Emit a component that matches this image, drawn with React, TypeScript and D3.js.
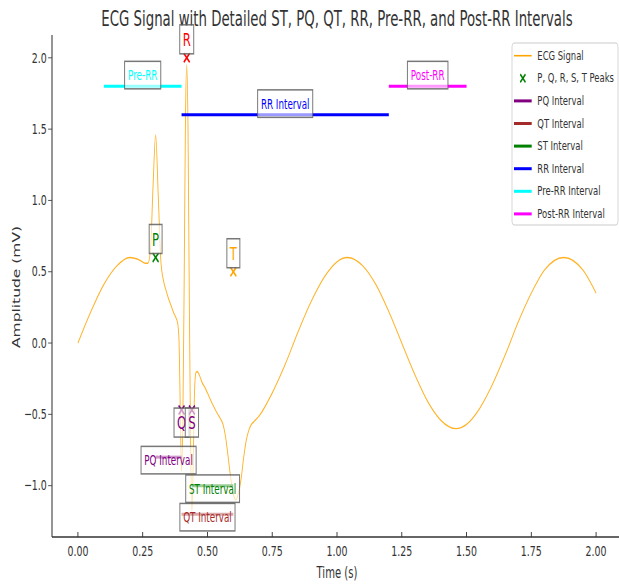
import React from 'react';
import * as d3 from 'd3';

// ECG trace (time in s, amplitude in mV)
const ecgTime = [
  0.0, 0.05, 0.1, 0.15, 0.2, 0.24, 0.26, 0.27, 0.28, 0.29, 0.3, 0.31, 0.32, 0.33, 0.34, 0.35,
  0.36, 0.37, 0.38, 0.385, 0.39, 0.395, 0.4, 0.405, 0.41, 0.415, 0.42, 0.425, 0.43, 0.435,
  0.44, 0.445, 0.45, 0.455, 0.46, 0.47, 0.48, 0.49, 0.5, 0.52, 0.54, 0.55, 0.56, 0.57, 0.58,
  0.59, 0.6, 0.61, 0.62, 0.63, 0.64, 0.65, 0.66, 0.67, 0.68, 0.7, 0.75, 0.8, 0.85, 0.9, 0.95,
  1.0, 1.04, 1.1, 1.15, 1.2, 1.25, 1.3, 1.35, 1.4, 1.46, 1.5, 1.55, 1.6, 1.65, 1.7, 1.75, 1.8,
  1.875, 1.95, 2.0,
];
const ecgAmp = [
  0.0, 0.22, 0.41, 0.54, 0.6, 0.58, 0.56, 0.56, 0.65, 1.1, 1.46, 1.04, 0.58, 0.44, 0.37, 0.31,
  0.26, 0.21, 0.17, 0.14, 0.03, -0.45, -0.9, -0.55, 0.4, 1.55, 1.95, 1.5, 0.3, -0.7,
  -1.18, -0.85, -0.35, -0.21, -0.2, -0.23, -0.28, -0.31, -0.35, -0.43, -0.5, -0.53, -0.57, -0.66, -0.8,
  -0.95, -1.06, -1.1, -1.05, -0.95, -0.8, -0.68, -0.61, -0.57, -0.55, -0.51, -0.35, -0.15, 0.08, 0.29, 0.46,
  0.57, 0.6, 0.54, 0.41, 0.22, 0.0, -0.22, -0.41, -0.54, -0.6, -0.57, -0.46, -0.29, -0.08, 0.15, 0.35, 0.51,
  0.6, 0.51, 0.35,
];

const peakNames = ['P', 'Q', 'R', 'S', 'T'];
const peakTime = [0.3, 0.4, 0.42, 0.44, 0.6];
const peakAmp = [0.6, -0.47, 2.0, -0.47, 0.5];

const intervalNames = ['PQ Interval', 'QT Interval', 'ST Interval', 'RR Interval', 'Pre-RR Interval', 'Post-RR Interval'];
const intervalTags = ['PQ Interval', 'QT Interval', 'ST Interval', 'RR Interval', 'Pre-RR', 'Post-RR'];
const intervalStart = [0.3, 0.4, 0.44, 0.4, 0.1, 1.2];
const intervalEnd = [0.4, 0.6, 0.6, 1.2, 0.4, 1.5];
const intervalLevel = [-0.8, -1.2, -1.0, 1.6, 1.8, 1.8];

const xTicks = [0, 0.25, 0.5, 0.75, 1.0, 1.25, 1.5, 1.75, 2.0];
const yTicks = [-1.0, -0.5, 0.0, 0.5, 1.0, 1.5, 2.0];

// styling
const peakColor: Record<string, string> = { P: 'green', Q: 'purple', R: 'red', S: 'purple', T: 'orange' };
const intervalColor: Record<string, string> = {
  'PQ Interval': 'purple',
  'QT Interval': 'brown',
  'ST Interval': 'green',
  'RR Interval': 'blue',
  'Pre-RR Interval': 'cyan',
  'Post-RR Interval': 'magenta',
};
const labelAbove: Record<string, boolean> = { 'RR Interval': true, 'Pre-RR Interval': true, 'Post-RR Interval': true };

// the reference is squeezed horizontally; draw in a wider space and squash it
const SQ = 0.65;
const W = 619;
const H = 584;
const VW = W / SQ;
const px = (v: number) => v / SQ;
const FONT = 'DejaVu Sans';
const INK = '#333';

function textWidth(s: string, size: number) {
  const w: Record<string, number> = {
    P: 0.603, Q: 0.787, R: 0.695, S: 0.635, T: 0.611, I: 0.295, n: 0.634, t: 0.392, e: 0.615,
    r: 0.411, v: 0.592, a: 0.613, l: 0.278, '-': 0.361, o: 0.612, s: 0.521, ' ': 0.318,
  };
  let sum = 0;
  for (const c of s) sum += w[c] ?? 0.6;
  return sum * size;
}

function Cross({ x, y, color, r = 4.5, sw = 2 }: { x: number; y: number; color: string; r?: number; sw?: number }) {
  return (
    <g stroke={color} strokeWidth={sw}>
      <line x1={x - r} y1={y - r} x2={x + r} y2={y + r} />
      <line x1={x - r} y1={y + r} x2={x + r} y2={y - r} />
    </g>
  );
}

export default function App() {
  const x = d3.scaleLinear().domain([-0.1, 2.1]).range([px(52), px(622)]);
  const y = d3.scaleLinear().domain([-1.36, 2.16]).range([537, 35]);

  const pts: [number, number][] = ecgTime.map((t, i) => [t, ecgAmp[i]]);
  const line = d3
    .line<[number, number]>()
    .x((d) => x(d[0]))
    .y((d) => y(d[1]))
    .curve(d3.curveMonotoneX);

  const x0 = px(52);
  const yBottom = 537;

  const legendItems = [
    { label: 'ECG Signal', kind: 'ecg' },
    { label: 'P, Q, R, S, T Peaks', kind: 'peak' },
    ...intervalNames.map((n) => ({ label: n, kind: 'interval' })),
  ];

  return (
    <div style={{ position: 'absolute', left: 0, top: 0 }}>
      <svg width={W} height={H} viewBox={`0 0 ${VW} ${H}`} preserveAspectRatio="none" fontFamily={FONT}>
        <rect x={0} y={0} width={VW} height={H} fill="white" />

        {/* title */}
        <text x={px(337)} y={26} textAnchor="middle" fontSize={20.5} fill={INK}>
          ECG Signal with Detailed ST, PQ, QT, RR, Pre-RR, and Post-RR Intervals
        </text>

        {/* signal */}
        <path d={line(pts) ?? ''} fill="none" stroke="orange" strokeWidth={1.4} strokeOpacity={0.85} />

        {/* interval lines */}
        {intervalNames.map((n, i) => (
          <line
            key={n}
            x1={x(intervalStart[i])}
            x2={x(intervalEnd[i])}
            y1={y(intervalLevel[i])}
            y2={y(intervalLevel[i])}
            stroke={intervalColor[n]}
            strokeWidth={3}
          />
        ))}

        {/* peak markers */}
        {peakNames.map((n, i) => (
          <Cross key={n} x={x(peakTime[i])} y={y(peakAmp[i])} color={peakColor[n]} />
        ))}

        {/* peak labels */}
        {peakNames.map((n, i) => {
          const cx = x(peakTime[i]);
          const my = y(peakAmp[i]);
          const h = 29;
          const top = peakAmp[i] < 0 ? my - 2 : my - 4 - h;
          const w = textWidth(n, 18) + 9;
          return (
            <g key={n}>
              <rect x={cx - w / 2} y={top} width={w} height={h} fill="white" fillOpacity={0.6} stroke="#555" strokeOpacity={0.8} strokeWidth={1.5} />
              <text x={cx} y={top + h / 2 + 1} textAnchor="middle" dominantBaseline="central" fontSize={18} fill={peakColor[n]}>
                {n}
              </text>
            </g>
          );
        })}

        {/* interval labels */}
        {intervalNames.map((n, i) => {
          const cx = x((intervalStart[i] + intervalEnd[i]) / 2);
          const ly = y(intervalLevel[i]);
          const h = 27.5;
          const top = labelAbove[n] ? ly + 2.5 - h : ly + 3 - h / 2;
          const tag = intervalTags[i];
          const w = textWidth(tag, 13.5) + 10;
          return (
            <g key={n}>
              <rect x={cx - w / 2} y={top} width={w} height={h} fill="white" fillOpacity={0.6} stroke="#555" strokeOpacity={0.8} strokeWidth={1.5} />
              <text x={cx} y={top + h / 2 + 0.5} textAnchor="middle" dominantBaseline="central" fontSize={13.5} fill={intervalColor[n]}>
                {tag}
              </text>
            </g>
          );
        })}

        {/* axes */}
        <line x1={x0} x2={VW} y1={yBottom} y2={yBottom} stroke={INK} strokeWidth={1.3} />
        <line x1={x0} x2={x0} y1={35} y2={yBottom} stroke={INK} strokeWidth={1.6} />
        {xTicks.map((t) => (
          <g key={t}>
            <line x1={x(t)} x2={x(t)} y1={yBottom} y2={yBottom - 5} stroke={INK} strokeWidth={1.4} />
            <text x={x(t)} y={556} textAnchor="middle" fontSize={14.5} fill={INK}>
              {d3.format('.2f')(t)}
            </text>
          </g>
        ))}
        {yTicks.map((t) => (
          <g key={t}>
            <line x1={x0} x2={x0 - 6} y1={y(t)} y2={y(t)} stroke={INK} strokeWidth={1} />
            <text x={x0 - 8} y={y(t)} textAnchor="end" dominantBaseline="central" fontSize={14.5} fill={INK}>
              {d3.format('.1f')(t).replace('-', '\u2212')}
            </text>
          </g>
        ))}
        <text x={px(337)} y={578} textAnchor="middle" fontSize={15.5} fill={INK}>
          Time (s)
        </text>
        <text
          transform={`translate(${px(17)},287) rotate(-90)`}
          textAnchor="middle"
          dominantBaseline="central"
          fontSize={15.5}
          fill={INK}
        >
          Amplitude (mV)
        </text>

        {/* legend */}
        <rect x={px(512)} y={43} width={px(618) - px(512)} height={182} rx={4} fill="white" fillOpacity={0.8} stroke="#ccc" strokeWidth={1.2} />
        {legendItems.map((it, i) => {
          const ly = 55.7 + i * 22.6;
          const hx1 = px(514);
          const hx2 = px(531.7);
          return (
            <g key={it.label}>
              {it.kind === 'ecg' && <line x1={hx1} x2={hx2} y1={ly} y2={ly} stroke="orange" strokeWidth={1.6} />}
              {it.kind === 'peak' && <Cross x={(hx1 + hx2) / 2} y={ly} color="green" r={4} />}
              {it.kind === 'interval' && (
                <line x1={hx1} x2={hx2} y1={ly} y2={ly} stroke={intervalColor[it.label]} strokeWidth={3} />
              )}
              <text x={px(537.3)} y={ly} dominantBaseline="central" fontSize={13} fill={INK}>
                {it.label}
              </text>
            </g>
          );
        })}
      </svg>
    </div>
  );
}
